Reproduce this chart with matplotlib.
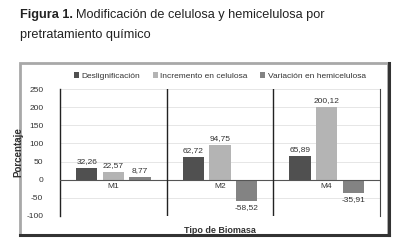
import numpy as np
import matplotlib.pyplot as plt
from matplotlib.patches import Rectangle

plt.rcParams['font.family'] = ['Liberation Sans', 'DejaVu Sans']

categories = ['M1', 'M2', 'M4']
series_names = ['Deslignificación', 'Incremento en celulosa', 'Variación en hemicelulosa']
deslig = [32.26, 62.72, 65.89]
celulosa = [22.57, 94.75, 200.12]
hemicel = [8.77, -58.52, -35.91]
labels_deslig = ['32,26', '62,72', '65,89']
labels_cel = ['22,57', '94,75', '200,12']
labels_hemi = ['8,77', '-58,52', '-35,91']
yticks = [-100, -50, 0, 50, 100, 150, 200, 250]

colors = ['#505050', '#b4b4b4', '#838383']

fig = plt.figure(figsize=(4.07, 2.52), dpi=100)

# title, bold part then regular part right after it
t1 = fig.text(20/407, 1 - 15/252, 'Figura 1.', fontsize=9.2, fontweight='bold', va='center', ha='left',
              color='#222222')
fig.canvas.draw()
bb = t1.get_window_extent()
fig.text((bb.x1 + 3) / 407, 1 - 15/252, 'Modificación de celulosa y hemicelulosa por', fontsize=9.2,
         va='center', ha='left', color='#222222')
fig.text(20/407, 1 - 35/252, 'pretratamiento químico', fontsize=9.2, va='center', ha='left', color='#222222')

# chart frame
frame = Rectangle((20/407, 1 - 235/252), 368/407, 172/252, transform=fig.transFigure,
                  facecolor='white', edgecolor='#a8a8a8', linewidth=2.0, zorder=-2)
fig.patches.append(frame)
fig.add_artist(plt.Line2D([20/407, 389/407], [1 - 235/252, 1 - 235/252], color='#333333', lw=2.2,
                          transform=fig.transFigure, zorder=-1))
fig.add_artist(plt.Line2D([389/407, 389/407], [1 - 235/252, 1 - 63/252], color='#333333', lw=2.2,
                          transform=fig.transFigure, zorder=-1))

ax = fig.add_axes([60/407, 1 - 216/252, 320/407, 127/252])
ax.set_zorder(2)
ax.patch.set_alpha(0)
x = np.arange(len(categories))
w = 0.2
step = 0.25
all_series = [deslig, celulosa, hemicel]
all_labels = [labels_deslig, labels_cel, labels_hemi]
for i, (vals, labs) in enumerate(zip(all_series, all_labels)):
    xs = x + (i - 1) * step
    ax.bar(xs, vals, width=w, color=colors[i], label=series_names[i], zorder=3)
    for xx, v, t in zip(xs, vals, labs):
        if v >= 0:
            ax.text(xx, v + 8, t, ha='center', va='bottom', fontsize=6, color='#333333')
        else:
            ax.text(xx, v - 8, t, ha='center', va='top', fontsize=6, color='#333333')

ax.set_xlim(-0.5, 2.5)
ax.set_ylim(-100, 250)
ax.set_yticks(yticks)
ax.set_yticklabels([str(t) for t in yticks], fontsize=6, color='#333333')
ax.grid(axis='y', color='#e6e6e6', lw=0.7, zorder=0)
ax.axhline(0, color='#555555', lw=0.8, zorder=4)
for xv in [0.5, 1.5]:
    ax.axvline(xv, color='#222222', lw=1.0, zorder=4)
ax.set_xticks([])
for xx, c in zip(x, categories):
    ax.text(xx, -8, c, ha='center', va='top', fontsize=6, color='#333333')
for s in ['top', 'bottom']:
    ax.spines[s].set_visible(False)
ax.spines['left'].set_color('#222222')
ax.spines['left'].set_linewidth(1.0)
ax.spines['right'].set_color('#444444')
ax.tick_params(axis='y', length=0, pad=12)

ax.set_ylabel('Porcentaje', fontsize=7, fontweight='bold', color='#333333', labelpad=2)
ax.set_xlabel('Tipo de Biomasa', fontsize=6.5, fontweight='bold', color='#333333')
ax.xaxis.set_label_coords(0.5, -0.08)

ax.legend(loc='upper center', bbox_to_anchor=(0.5, 1.19), ncol=3, frameon=False,
          fontsize=6, handlelength=0.6, handleheight=0.6, handletextpad=0.3, columnspacing=1.5,
          labelcolor='#333333')

fig.savefig('out.png', dpi=100)
